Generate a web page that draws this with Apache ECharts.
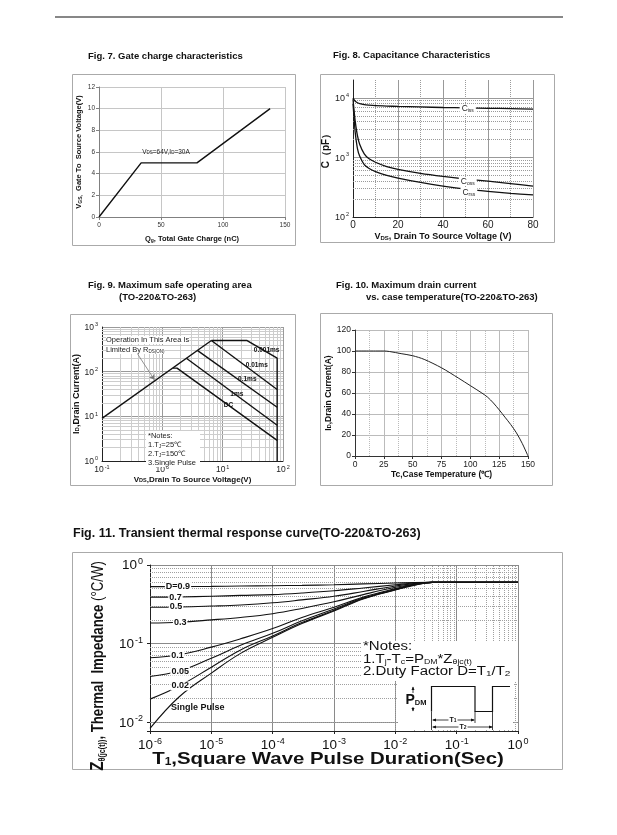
<!DOCTYPE html>
<html>
<head>
<meta charset="utf-8">
<script src="https://cdn.jsdelivr.net/npm/echarts@6.0.0/dist/echarts.min.js"></script>
<style>
html,body{margin:0;padding:0;background:#fff;}
#chart{width:617px;height:835px;}
</style>
</head>
<body>
<div id="chart"></div>
<script>
// ---------- Fig. 7 Gate charge ----------
const gateChargeQg = [0, 34, 79, 138];
const gateVoltageVgs = [0, 5, 5, 10];

// ---------- Fig. 8 Capacitance ----------
const capVds  = [0, 0.5, 1, 2, 3, 5, 7, 10, 15, 20, 30, 40, 50, 60, 70, 80];
const capCiss = [10000, 9300, 8800, 8300, 8000, 7700, 7550, 7400, 7300, 7200, 7050, 6900, 6800, 6700, 6600, 6500];
const capCoss = [9500, 6000, 4000, 2300, 1650, 1150, 960, 830, 700, 630, 540, 480, 435, 400, 365, 330];
const capCrss = [8000, 4500, 2600, 1400, 1050, 760, 660, 580, 500, 450, 380, 330, 295, 270, 250, 235];

// ---------- Fig. 9 Safe operating area ----------
const soaRdsV = [0.1, 6.5];        const soaRdsI = [9, 500];
const soaDcV = [1.5, 1.75, 80];    const soaDcI = [120, 120, 2.9];
const soa1msV = [2.5, 80];         const soa1msI = [200, 6.3];
const soa01msV = [3.8, 80];        const soa01msI = [300, 16];
const soa001msV = [6.5, 80];       const soa001msI = [500, 40];
const soa0001msV = [6.5, 25, 80, 80]; const soa0001msI = [500, 500, 200, 1];

// ---------- Fig. 10 Max drain current vs Tc ----------
const caseTemp = [0, 25, 30, 40, 50, 60, 75, 90, 100, 110, 115, 120, 125, 130, 135, 140, 145, 150];
const drainCurrent = [100, 100, 99.5, 97.5, 95.5, 92, 84, 74, 67, 60, 56, 50.5, 44, 37, 30, 22, 12, 0];

// ---------- Fig. 11 Transient thermal response ----------
const pulseTime = [1e-6, 3e-6, 1e-5, 3e-5, 1e-4, 3e-4, 1e-3, 3e-3, 1e-2, 2e-2, 4e-2, 1e-1, 1];
const zthD09 = [0.53, 0.531, 0.535, 0.54, 0.545, 0.55, 0.56, 0.575, 0.59, 0.598, 0.6, 0.6, 0.6];
const zthD07 = [0.39, 0.392, 0.40, 0.41, 0.42, 0.44, 0.47, 0.51, 0.56, 0.59, 0.6, 0.6, 0.6];
const zthD05 = [0.29, 0.292, 0.30, 0.31, 0.33, 0.36, 0.40, 0.46, 0.54, 0.58, 0.6, 0.6, 0.6];
const zthD03 = [0.183, 0.187, 0.20, 0.215, 0.24, 0.28, 0.34, 0.42, 0.52, 0.57, 0.6, 0.6, 0.6];
const zthD01 = [0.066, 0.072, 0.09, 0.115, 0.155, 0.215, 0.29, 0.39, 0.50, 0.565, 0.6, 0.6, 0.6];
const zthD005 = [0.038, 0.0446, 0.065, 0.095, 0.135, 0.195, 0.275, 0.38, 0.49, 0.56, 0.6, 0.6, 0.6];
const zthD002 = [0.0196, 0.0288, 0.05, 0.083, 0.125, 0.185, 0.265, 0.375, 0.485, 0.555, 0.6, 0.6, 0.6];
const zthSingle = [0.0083, 0.021, 0.042, 0.075, 0.12, 0.18, 0.26, 0.37, 0.48, 0.55, 0.6, 0.6, 0.6];

// minor grid values
const fig8MinorC = [200,300,400,500,600,700,800,900,2000,3000,4000,5000,6000,7000,8000,9000];
const fig8MinorV = [10, 30, 50, 70];
const fig9MinorV = [0.2,0.3,0.4,0.5,0.6,0.7,0.8,0.9,2,3,4,5,6,7,8,9,20,30,40,50,60,70,80,90];
const fig9MinorI = [2,3,4,5,6,7,8,9,20,30,40,50,60,70,80,90,200,300,400,500,600,700,800,900];
const fig10MinorT = [12.5, 37.5, 62.5, 87.5, 112.5, 137.5];
const fig11MinorT = [2e-6,3e-6,4e-6,5e-6,6e-6,7e-6,8e-6,9e-6, 2e-5,3e-5,4e-5,5e-5,6e-5,7e-5,8e-5,9e-5,
  2e-4,3e-4,4e-4,5e-4,6e-4,7e-4,8e-4,9e-4, 2e-3,3e-3,4e-3,5e-3,6e-3,7e-3,8e-3,9e-3,
  0.02,0.03,0.04,0.05,0.06,0.07,0.08,0.09, 0.2,0.3,0.4,0.5,0.6,0.7,0.8,0.9];
const fig11MinorZ = [0.008,0.009,0.02,0.03,0.04,0.05,0.06,0.07,0.08,0.09,0.2,0.3,0.4,0.5,0.6,0.7,0.8,0.9];

const F = "'Liberation Sans', Arial, Helvetica, sans-serif";
const zip = (a, b) => a.map((v, i) => [v, b[i]]);

function pow10(v) {
  const e = Math.log10(v), r = Math.round(e);
  if (Math.abs(e - r) > 1e-6) return '';
  return '{b|10}{s|' + (r < 0 ? '-' + (-r) : String(r)) + '}';
}
function richPow(fs, ss, color) {
  return {
    b: {fontFamily: F, fontSize: fs, color: color, lineHeight: fs + 2, verticalAlign: 'bottom'},
    s: {fontFamily: F, fontSize: ss, color: color, lineHeight: fs + 2, verticalAlign: 'top', padding: [0, 0, 0, 1]}
  };
}
function subRich(fs, ss, weight, color) {
  return {
    b: {fontFamily: F, fontSize: fs, fontWeight: weight, color: color},
    s: {fontFamily: F, fontSize: ss, fontWeight: weight, color: color, verticalAlign: 'bottom', lineHeight: fs}
  };
}
function gRich(fs, ss, weight) {
  return {
    b: {fontFamily: F, fontSize: fs, fontWeight: weight, fill: '#111'},
    s: {fontFamily: F, fontSize: ss, fontWeight: weight, fill: '#111', verticalAlign: 'bottom', lineHeight: fs - 1}
  };
}
function minorLines(axisKey, values, style) {
  return {
    silent: true, symbol: 'none', z: 1, animation: false,
    label: {show: false}, emphasis: {disabled: true},
    lineStyle: style,
    data: values.map(v => ({[axisKey]: v}))
  };
}
function gridSeries(idx, markLines) {
  return markLines.map(ml => ({
    type: 'line', xAxisIndex: idx, yAxisIndex: idx, data: [], silent: true,
    markLine: ml
  }));
}
function curve(idx, xs, ys, extra) {
  return Object.assign({
    type: 'line', xAxisIndex: idx, yAxisIndex: idx, data: zip(xs, ys),
    symbol: 'none', z: 3, silent: true, animation: false,
    lineStyle: {color: '#111', width: 1.2}
  }, extra || {});
}
function textMark(coord, text, opts) {
  return {
    symbol: 'circle', symbolSize: 0, silent: true, z: 6,
    itemStyle: {color: 'rgba(0,0,0,0)'},
    data: [{coord: coord}],
    label: Object.assign({show: true, position: 'inside', formatter: text, fontFamily: F, color: '#111'}, opts || {})
  };
}

const chart = echarts.init(document.getElementById('chart'), null, {renderer: 'canvas'});

const titleStyle = {fontFamily: F, fontWeight: 'bold', fontSize: 9.5, color: '#111'};
const T = (text, left, top, style) => ({text, left, top, padding: 0, textStyle: style || titleStyle});
const soaLine = {color: '#111', width: 1.4};

const option = {
  animation: false,
  backgroundColor: '#fff',
  textStyle: {fontFamily: F},
  title: [
    T('Fig. 7. Gate charge characteristics', 88, 51),
    T('Fig. 8. Capacitance Characteristics', 333, 50),
    T('Fig. 9. Maximum safe operating area', 88, 280),
    T('(TO-220&TO-263)', 119, 292),
    T('Fig. 10. Maximum drain current', 336, 280),
    T('vs. case temperature(TO-220&TO-263)', 366, 292),
    T('Fig. 11. Transient thermal response curve(TO-220&TO-263)', 73, 527,
      {fontFamily: F, fontWeight: 'bold', fontSize: 12.5, color: '#111'})
  ],
  grid: [
    {left: 99, top: 87, width: 186, height: 130, outerBoundsMode: 'none'},
    {left: 353, top: 80, width: 180, height: 137, outerBoundsMode: 'none'},
    {left: 102, top: 327, width: 181, height: 134, outerBoundsMode: 'none'},
    {left: 355, top: 330, width: 173, height: 126, outerBoundsMode: 'none'},
    {left: 150, top: 565, width: 368, height: 166, outerBoundsMode: 'none'}
  ],
  xAxis: [
    { // Fig 7
      gridIndex: 0, type: 'value', min: 0, max: 150, interval: 50,
      axisLine: {onZero: false, lineStyle: {color: '#808080'}},
      axisTick: {length: 3, lineStyle: {color: '#808080'}},
      axisLabel: {fontFamily: F, fontSize: 6.5, color: '#333', margin: 5},
      splitLine: {show: true, lineStyle: {color: '#c6c6c6', width: 1}},
      name: '{b|Q}{s|g}{b|, Total Gate Charge (nC)}', nameLocation: 'middle', nameGap: 18,
      nameTextStyle: {rich: subRich(7.5, 5, 'bold', '#111')}
    },
    { // Fig 8
      gridIndex: 1, type: 'value', min: 0, max: 80, interval: 20,
      axisLine: {onZero: false, lineStyle: {color: '#222'}},
      axisTick: {show: false},
      axisLabel: {fontFamily: F, fontSize: 10, color: '#222', margin: 3},
      splitLine: {show: true, lineStyle: {color: '#999', width: 1}},
      name: '{b|V}{s|DS}{b|, Drain To Source Voltage (V)}', nameLocation: 'middle', nameGap: 15,
      nameTextStyle: {rich: subRich(9, 6, 'bold', '#111')}
    },
    { // Fig 9
      gridIndex: 2, type: 'log', logBase: 10, min: 0.1, max: 100,
      axisLine: {onZero: false, lineStyle: {color: '#222'}},
      axisTick: {show: false},
      axisLabel: {formatter: pow10, margin: 3, rich: richPow(8.5, 5.5, '#222')},
      splitLine: {show: true, lineStyle: {color: '#9a9a9a', width: 1}},
      name: '{b|V}{s|DS}{b|,Drain To Source Voltage(V)}', nameLocation: 'middle', nameGap: 14,
      nameTextStyle: {rich: subRich(8, 5.5, 'bold', '#111')}
    },
    { // Fig 10
      gridIndex: 3, type: 'value', min: 0, max: 150, interval: 25,
      axisLine: {onZero: false, lineStyle: {color: '#333'}},
      axisTick: {length: 3, lineStyle: {color: '#333'}},
      axisLabel: {fontFamily: F, fontSize: 8.5, color: '#222', margin: 4},
      splitLine: {show: true, lineStyle: {color: '#bbb', width: 1}},
      name: 'Tc,Case Temperature (\u2103)', nameLocation: 'middle', nameGap: 14,
      nameTextStyle: {fontFamily: F, fontWeight: 'bold', fontSize: 8.5, color: '#111'}
    },
    { // Fig 11
      gridIndex: 4, type: 'log', logBase: 10, min: 1e-6, max: 1,
      axisLine: {onZero: false, lineStyle: {color: '#222'}},
      axisTick: {show: true, length: 3, lineStyle: {color: '#222'}},
      axisLabel: {formatter: pow10, margin: 6, rich: richPow(13.5, 9, '#111')},
      splitLine: {show: true, lineStyle: {color: '#8a8a8a', width: 1}}
    }
  ],
  yAxis: [
    { // Fig 7
      gridIndex: 0, type: 'value', min: 0, max: 12, interval: 2,
      axisLine: {show: true, onZero: false, lineStyle: {color: '#808080'}},
      axisTick: {show: true, length: 3, lineStyle: {color: '#808080'}},
      axisLabel: {fontFamily: F, fontSize: 6.5, color: '#333', margin: 4},
      splitLine: {show: true, lineStyle: {color: '#c6c6c6', width: 1}},
      name: '{b|V}{s|GS,}{b|  Gate To  Source Voltage(V)}', nameLocation: 'middle', nameGap: 16,
      nameTextStyle: {rich: subRich(7.5, 5, 'bold', '#111')}
    },
    { // Fig 8
      gridIndex: 1, type: 'log', logBase: 10, min: 100, max: 20000,
      axisLine: {show: true, onZero: false, lineStyle: {color: '#222'}},
      axisTick: {show: false},
      axisLabel: {formatter: pow10, margin: 4, rich: richPow(9, 5.5, '#222')},
      splitLine: {show: true, showMaxLine: false, lineStyle: {color: '#999', width: 1}},
      name: 'C\uFF08pF\uFF09', nameLocation: 'middle', nameGap: 17,
      nameTextStyle: {fontFamily: F, fontWeight: 'bold', fontSize: 10, color: '#111'}
    },
    { // Fig 9
      gridIndex: 2, type: 'log', logBase: 10, min: 1, max: 1000,
      axisLine: {show: true, onZero: false, lineStyle: {color: '#222'}},
      axisTick: {show: false},
      axisLabel: {formatter: pow10, margin: 4, rich: richPow(8.5, 5.5, '#222')},
      splitLine: {show: true, lineStyle: {color: '#9a9a9a', width: 1}},
      name: '{b|I}{s|D}{b|,Drain Current(A)}', nameLocation: 'middle', nameGap: 19,
      nameTextStyle: {rich: subRich(9, 6, 'bold', '#111')}
    },
    { // Fig 10
      gridIndex: 3, type: 'value', min: 0, max: 120, interval: 20,
      axisLine: {show: true, onZero: false, lineStyle: {color: '#333'}},
      axisTick: {show: true, length: 3, lineStyle: {color: '#333'}},
      axisLabel: {fontFamily: F, fontSize: 8.5, color: '#222', margin: 4},
      splitLine: {show: true, lineStyle: {color: '#bbb', width: 1}},
      name: '{b|I}{s|D}{b|,Drain Current(A)}', nameLocation: 'middle', nameGap: 19,
      nameTextStyle: {rich: subRich(8.5, 5.5, 'bold', '#111')}
    },
    { // Fig 11
      gridIndex: 4, type: 'log', logBase: 10, min: 0.0077, max: 1,
      axisLine: {show: true, onZero: false, lineStyle: {color: '#222'}},
      axisTick: {show: true, length: 3, lineStyle: {color: '#222'}},
      axisLabel: {formatter: pow10, margin: 7, rich: richPow(13.5, 9, '#111')},
      splitLine: {show: true, showMinLine: false, lineStyle: {color: '#8a8a8a', width: 1}}
    }
  ],
  series: [
    // ----- Fig 7 -----
    curve(0, gateChargeQg, gateVoltageVgs, {
      lineStyle: {color: '#111', width: 1.4},
      markPoint: textMark([54, 6], '{b|V}{s|DS}{b|=64V,I}{s|D}{b|=30A}', {rich: subRich(6.5, 4.5, 'normal', '#222')})
    }),
    // ----- Fig 8 -----
    ...gridSeries(1, [
      minorLines('yAxis', fig8MinorC, {color: '#9a9a9a', type: [1, 1], width: 1}),
      minorLines('xAxis', fig8MinorV, {color: '#9a9a9a', type: [1, 1], width: 1})
    ]),
    curve(1, capVds, capCiss, {smooth: 0.3, lineStyle: {color: '#111', width: 1.3}, markPoint: textMark([51, 6530], '{b|C}{s|iss}',
      {backgroundColor: '#fff', padding: [0, 2], rich: subRich(8.5, 5, 'normal', '#222')})}),
    curve(1, capVds, capCoss, {smooth: 0.3, lineStyle: {color: '#111', width: 1.3}, markPoint: textMark([51, 396], '{b|C}{s|oss}',
      {backgroundColor: '#fff', padding: [0, 2], rich: subRich(8.5, 5, 'normal', '#222')})}),
    curve(1, capVds, capCrss, {smooth: 0.3, lineStyle: {color: '#111', width: 1.3}, markPoint: textMark([51.5, 259], '{b|C}{s|rss}',
      {backgroundColor: '#fff', padding: [0, 2], rich: subRich(8.5, 5, 'normal', '#222')})}),
    // ----- Fig 9 -----
    ...gridSeries(2, [
      minorLines('xAxis', fig9MinorV, {color: '#cdcdcd', type: 'solid', width: 1}),
      minorLines('yAxis', fig9MinorI, {color: '#cdcdcd', type: 'solid', width: 1})
    ]),
    curve(2, soaRdsV, soaRdsI, {
      lineStyle: soaLine,
      markLine: {
        silent: true, symbol: ['none', 'arrow'], symbolSize: 5, z: 4, animation: false,
        label: {show: false}, lineStyle: {color: '#777', width: 0.8, type: 'solid'},
        data: [[{coord: [0.39, 247]}, {coord: [0.74, 66]}]]
      }
    }),
    curve(2, soaDcV, soaDcI, {lineStyle: soaLine, markPoint: textMark([12.5, 17.3], 'DC', {fontSize: 6.5, fontWeight: 'bold'})}),
    curve(2, soa1msV, soa1msI, {lineStyle: soaLine, markPoint: textMark([17.2, 32], '1ms', {fontSize: 6.5, fontWeight: 'bold'})}),
    curve(2, soa01msV, soa01msI, {lineStyle: soaLine, markPoint: textMark([25.6, 69], '0.1ms', {fontSize: 6.5, fontWeight: 'bold'})}),
    curve(2, soa001msV, soa001msI, {lineStyle: soaLine, markPoint: textMark([36.7, 141], '0.01ms', {fontSize: 6.5, fontWeight: 'bold'})}),
    curve(2, soa0001msV, soa0001msI, {lineStyle: soaLine, markPoint: textMark([53.6, 304], '0.001ms', {fontSize: 6.5, fontWeight: 'bold'})}),
    // ----- Fig 10 -----
    ...gridSeries(3, [
      minorLines('xAxis', fig10MinorT, {color: '#bbb', type: [1, 1], width: 1})
    ]),
    curve(3, caseTemp, drainCurrent, {smooth: 0.3, lineStyle: {color: '#222', width: 1}}),
    // ----- Fig 11 -----
    ...gridSeries(4, [
      minorLines('xAxis', fig11MinorT, {color: '#a0a0a0', type: [1, 1], width: 1}),
      minorLines('yAxis', fig11MinorZ, {color: '#a0a0a0', type: [1, 1], width: 1})
    ]),
    ...[
      [zthD09, 'D=0.9', [2.86e-6, 0.531]],
      [zthD07, '0.7', [2.6e-6, 0.391]],
      [zthD05, '0.5', [2.65e-6, 0.292]],
      [zthD03, '0.3', [3.1e-6, 0.187]],
      [zthD01, '0.1', [2.8e-6, 0.071]],
      [zthD005, '0.05', [3.1e-6, 0.0446]],
      [zthD002, '0.02', [3.1e-6, 0.0288]],
      [zthSingle, 'Single Pulse', [6.0e-6, 0.0152]]
    ].map(([ys, lab, at]) => curve(4, pulseTime, ys, {
      smooth: 0.4, lineStyle: {color: '#111', width: 1.1},
      markPoint: textMark(at, lab, {fontSize: 9, fontWeight: 'bold', backgroundColor: lab === 'Single Pulse' ? 'transparent' : '#fff', padding: [0, 1]})
    }))
  ],
  graphic: [
    // page rule
    {type: 'line', shape: {x1: 55, y1: 17, x2: 563, y2: 17}, style: {stroke: '#111', lineWidth: 1.2}, z: 1},
    // frames
    {type: 'rect', shape: {x: 72.5, y: 74.5, width: 223, height: 171}, style: {fill: null, stroke: '#aaa', lineWidth: 1}, z: 0},
    {type: 'rect', shape: {x: 320.5, y: 74.5, width: 234, height: 168}, style: {fill: null, stroke: '#aaa', lineWidth: 1}, z: 0},
    {type: 'rect', shape: {x: 70.5, y: 314.5, width: 225, height: 171}, style: {fill: null, stroke: '#aaa', lineWidth: 1}, z: 0},
    {type: 'rect', shape: {x: 320.5, y: 313.5, width: 232, height: 172}, style: {fill: null, stroke: '#aaa', lineWidth: 1}, z: 0},
    {type: 'rect', shape: {x: 72.5, y: 552.5, width: 490, height: 217}, style: {fill: null, stroke: '#aaa', lineWidth: 1}, z: 0},
    // Fig 11 axis titles (condensed / letter-spaced like the original)
    {type: 'text', x: 98, y: 666, rotation: Math.PI / 2, scaleX: 0.8, z: 20,
     style: {text: '{z|Z}{s|\u03B8(jc(t))}{b|, Thermal  Impedance }{c|(\u00B0C/W)}', align: 'center', verticalAlign: 'middle',
       rich: {
         z: {fontFamily: F, fontSize: 19, fontWeight: 'bold', fill: '#111'},
         s: {fontFamily: F, fontSize: 9, fontWeight: 'bold', fill: '#111', verticalAlign: 'bottom', lineHeight: 17},
         b: {fontFamily: F, fontSize: 16.5, fontWeight: 'bold', fill: '#111'},
         c: {fontFamily: F, fontSize: 16.5, fill: '#111'}
       }}},
    {type: 'text', x: 328, y: 759, scaleX: 1.2, z: 20,
     style: {text: '{b|T}{s|1}{b|,Square Wave Pulse Duration(Sec)}', align: 'center', verticalAlign: 'middle', rich: gRich(17, 10, 'bold')}},
    // Fig 9 texts
    {type: 'text', x: 106, y: 340, z: 20, style: {text: 'Operation In This Area Is', fontFamily: F, fontSize: 7.5, fill: '#222', verticalAlign: 'middle', backgroundColor: '#fff'}},
    {type: 'text', x: 106, y: 350, z: 20, style: {text: '{b|Limited By R}{s|DS(ON)}', rich: {b: {fontFamily: F, fontSize: 7.5, fill: '#222'}, s: {fontFamily: F, fontSize: 4.5, fill: '#222', verticalAlign: 'bottom', lineHeight: 7}}, verticalAlign: 'middle', backgroundColor: '#fff'}},
    {type: 'rect', shape: {x: 146, y: 431, width: 54, height: 36}, style: {fill: '#fff'}, z: 19},
    {type: 'text', x: 148, y: 436, z: 20, style: {text: '*Notes:', fontFamily: F, fontSize: 7.5, fill: '#222', verticalAlign: 'middle'}},
    {type: 'text', x: 148, y: 445, z: 20, style: {text: '{b|1.T}{s|J}{b|=25\u2103}', rich: {b: {fontFamily: F, fontSize: 7.5, fill: '#222'}, s: {fontFamily: F, fontSize: 5, fill: '#222', verticalAlign: 'bottom', lineHeight: 7.5}}, verticalAlign: 'middle'}},
    {type: 'text', x: 148, y: 454, z: 20, style: {text: '{b|2.T}{s|J}{b|=150\u2103}', rich: {b: {fontFamily: F, fontSize: 7.5, fill: '#222'}, s: {fontFamily: F, fontSize: 5, fill: '#222', verticalAlign: 'bottom', lineHeight: 7.5}}, verticalAlign: 'middle'}},
    {type: 'text', x: 148, y: 463, z: 20, style: {text: '3.Single Pulse', fontFamily: F, fontSize: 7.5, fill: '#222', verticalAlign: 'middle'}},
    // Fig 11 notes
    {type: 'rect', shape: {x: 361, y: 641, width: 157, height: 40}, style: {fill: '#fff'}, z: 19},
    {type: 'rect', shape: {x: 398, y: 681, width: 115, height: 49}, style: {fill: '#fff'}, z: 19},
    {type: 'text', x: 363, y: 647, scaleX: 1.25, z: 20, style: {text: '*Notes:', fontFamily: F, fontSize: 12, fill: '#111', verticalAlign: 'middle'}},
    {type: 'text', x: 363, y: 660, scaleX: 1.25, z: 20, style: {text: '{b|1.T}{s|j}{b|-T}{s|c}{b|=P}{s|DM}{b|*Z}{s|\u03B8jc(t)}', rich: gRich(12, 7, 'normal'), verticalAlign: 'middle'}},
    {type: 'text', x: 363, y: 672, scaleX: 1.25, z: 20, style: {text: '{b|2.Duty Factor D=T}{s|1}{b|/T}{s|2}', rich: gRich(12, 8, 'normal'), verticalAlign: 'middle'}},
    // pulse waveform
    {type: 'polyline', z: 21, shape: {points: [[431.5, 711.5], [431.5, 686.5], [475, 686.5], [475, 711.5], [492.5, 711.5], [492.5, 686.5], [510, 686.5]]}, style: {stroke: '#111', lineWidth: 1.2, fill: null}},
    {type: 'line', z: 21, shape: {x1: 431.5, y1: 711.5, x2: 431.5, y2: 730}, style: {stroke: '#111', lineWidth: 0.8}},
    {type: 'line', z: 21, shape: {x1: 475, y1: 711.5, x2: 475, y2: 723}, style: {stroke: '#111', lineWidth: 0.8}},
    {type: 'line', z: 21, shape: {x1: 492.5, y1: 711.5, x2: 492.5, y2: 730}, style: {stroke: '#111', lineWidth: 0.8}},
    // PDM arrow
    {type: 'line', z: 21, shape: {x1: 413, y1: 687, x2: 413, y2: 711}, style: {stroke: '#111', lineWidth: 0.8}},
    {type: 'polygon', z: 21, shape: {points: [[413, 686.5], [411.5, 690], [414.5, 690]]}, style: {fill: '#111'}},
    {type: 'polygon', z: 21, shape: {points: [[413, 711.5], [411.5, 708], [414.5, 708]]}, style: {fill: '#111'}},
    {type: 'text', x: 416, y: 700, z: 22, style: {text: '{b|P}{s|DM}', rich: gRich(14, 7.5, 'bold'), align: 'center', verticalAlign: 'middle', backgroundColor: '#fff'}},
    // T1, T2 arrows
    {type: 'line', z: 21, shape: {x1: 433, y1: 720, x2: 474, y2: 720}, style: {stroke: '#111', lineWidth: 0.8}},
    {type: 'polygon', z: 21, shape: {points: [[432, 720], [436, 718.5], [436, 721.5]]}, style: {fill: '#111'}},
    {type: 'polygon', z: 21, shape: {points: [[475, 720], [471, 718.5], [471, 721.5]]}, style: {fill: '#111'}},
    {type: 'text', x: 453, y: 720, z: 22, style: {text: '{b|T}{s|1}', rich: gRich(7, 5, 'bold'), align: 'center', verticalAlign: 'middle', backgroundColor: '#fff', padding: [0, 1]}},
    {type: 'line', z: 21, shape: {x1: 433, y1: 727, x2: 492, y2: 727}, style: {stroke: '#111', lineWidth: 0.8}},
    {type: 'polygon', z: 21, shape: {points: [[432, 727], [436, 725.5], [436, 728.5]]}, style: {fill: '#111'}},
    {type: 'polygon', z: 21, shape: {points: [[493, 727], [489, 725.5], [489, 728.5]]}, style: {fill: '#111'}},
    {type: 'text', x: 463, y: 727, z: 22, style: {text: '{b|T}{s|2}', rich: gRich(7, 5, 'bold'), align: 'center', verticalAlign: 'middle', backgroundColor: '#fff', padding: [0, 1]}}
  ]
};
chart.setOption(option);
</script>
</body>
</html>
